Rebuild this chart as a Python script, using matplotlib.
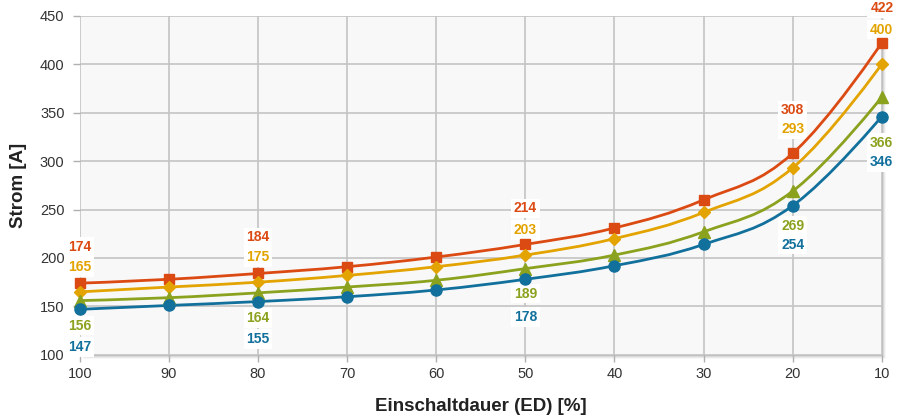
import matplotlib
matplotlib.use("Agg")
import numpy as np
from matplotlib import pyplot as plt
from matplotlib.path import Path
from matplotlib.patches import PathPatch, Rectangle

plt.rcParams['font.family'] = ['Liberation Sans', 'DejaVu Sans']

# Einschaltdauer [%]
ed = [100, 90, 80, 70, 60, 50, 40, 30, 20, 10]

# Strom [A] per curve
strom_rot = [174, 178, 184, 191, 201, 214, 231, 260, 308, 422]
strom_gelb = [165, 170, 175, 182, 191, 203, 220, 247, 293, 400]
strom_gruen = [156, 159, 164, 170, 177, 189, 203, 227, 269, 366]
strom_blau = [147, 151, 155, 160, 167, 178, 192, 214, 254, 346]

# which points carry a value label
label_ed = [100, 80, 50, 20, 10]

series = [
    (strom_rot, '#dc4a13', 's', 7, 'top2'),
    (strom_gelb, '#e3a300', 'D', 6, 'top1'),
    (strom_gruen, '#8aa21e', '^', 8, 'bot1'),
    (strom_blau, '#12709c', 'o', 8, 'bot2'),
]
# label offsets in points (default / at 20 % / at 10 %)
offsets = {'top2': 26, 'top1': 18, 'bot1': -18, 'bot2': -27}
offsets_20 = {'top2': 31, 'top1': 28, 'bot1': -25, 'bot2': -28}
offsets_10 = {'top2': 25, 'top1': 25, 'bot1': -33, 'bot2': -33}


def spline_path(x, y, smoothing=1.5):
    # same smoothing rule as a highcharts "spline" series
    x = np.asarray(x, float)
    y = np.asarray(y, float)
    n = len(x)
    d = smoothing + 1
    left = [(x[0], y[0])]
    right = []
    for i in range(n):
        if i == 0 or i == n - 1:
            if i == 0:
                right.append((x[0], y[0]))
            else:
                left.append((x[i], y[i]))
            continue
        lx = (smoothing * x[i] + x[i - 1]) / d
        ly = (smoothing * y[i] + y[i - 1]) / d
        rx = (smoothing * x[i] + x[i + 1]) / d
        ry = (smoothing * y[i] + y[i + 1]) / d
        if rx != lx:
            corr = (ry - ly) * (rx - x[i]) / (rx - lx) + y[i] - ry
            ly += corr
            ry += corr
        if ly > y[i - 1] and ly > y[i]:
            ly = max(y[i - 1], y[i]); ry = 2 * y[i] - ly
        elif ly < y[i - 1] and ly < y[i]:
            ly = min(y[i - 1], y[i]); ry = 2 * y[i] - ly
        if ry > y[i + 1] and ry > y[i]:
            ry = max(y[i + 1], y[i]); ly = 2 * y[i] - ry
        elif ry < y[i + 1] and ry < y[i]:
            ry = min(y[i + 1], y[i]); ly = 2 * y[i] - ry
        left.append((lx, ly))
        right.append((rx, ry))
    verts = [(x[0], y[0])]
    codes = [Path.MOVETO]
    for i in range(1, n):
        verts += [right[i - 1], left[i], (x[i], y[i])]
        codes += [Path.CURVE4] * 3
    return Path(verts, codes)


fig = plt.figure(figsize=(8.97, 4.16), dpi=100)
ax = fig.add_axes([0.089, 0.147, 0.894, 0.815])

# soft shadow behind plot area
for k, a in zip(range(1, 5), [0.10, 0.08, 0.05, 0.03]):
    fig.patches.append(Rectangle((0.089 + k * 0.0012, 0.147 - k * 0.0026), 0.894, 0.815,
                                 transform=fig.transFigure, facecolor='black',
                                 alpha=a, edgecolor='none', zorder=-5))
ax.set_facecolor('#f8f8f8')
ax.set_zorder(1)

ax.set_xlim(100, 10)
ax.set_ylim(100, 450)
ax.set_xticks(ed)
ax.set_yticks(range(100, 451, 50))
ax.grid(True, color='#c4c4c4', linewidth=1.2)
ax.set_axisbelow(True)
for s in ax.spines.values():
    s.set_visible(False)
ax.tick_params(axis='both', length=5, width=1, color='#b0b0b0',
               labelsize=10.5, labelcolor='#333333')
ax.tick_params(axis='x', pad=4)
ax.tick_params(axis='y', pad=6)

for vals, col, mk, ms, pos in series:
    ax.add_patch(PathPatch(spline_path(ed, vals), facecolor='none', edgecolor=col,
                           linewidth=2, zorder=3, clip_on=False))
    ax.plot(ed, vals, linestyle='none', marker=mk, color=col, markersize=ms,
            zorder=4, clip_on=False)
    for x, v in zip(ed, vals):
        if x not in label_ed:
            continue
        if x == 10:
            off = offsets_10[pos]
        elif x == 20:
            off = offsets_20[pos]
        else:
            off = offsets[pos]
        ax.annotate(str(v), (x, v), xytext=(0, off), textcoords='offset points',
                    ha='center', va='center', fontsize=10, fontweight='bold',
                    color=col, zorder=2.5, annotation_clip=False,
                    bbox=dict(boxstyle='square,pad=0.2', facecolor='white',
                              edgecolor='none'))

ax.set_xlabel('Einschaltdauer (ED) [%]', fontsize=13.5, fontweight='bold',
              color='#222222', labelpad=12)
ax.set_ylabel('Strom [A]', fontsize=13.5, fontweight='bold', color='#222222',
              labelpad=9)

fig.savefig('out.png', dpi=100)
